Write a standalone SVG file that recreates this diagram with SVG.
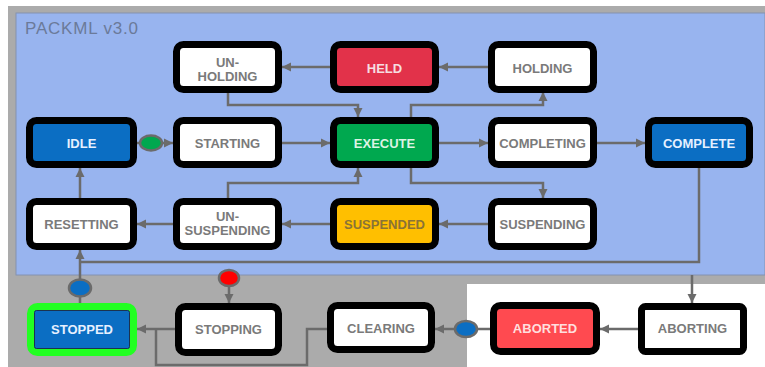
<svg xmlns="http://www.w3.org/2000/svg" width="765" height="367" viewBox="0 0 765 367">
<defs>
<style>
.bx{stroke:#000;stroke-width:7}
.w{fill:#fff}
.t{font-family:"Liberation Sans",Arial,sans-serif;font-weight:bold;font-size:13px;text-anchor:middle}
.tg{fill:#7a7a7a}
.tl{fill:#e6f0ff}
.c{fill:none;stroke:#6b6b6b;stroke-width:2.5}
.ca{fill:none;stroke:#6b6b6b;stroke-width:2.5;marker-end:url(#ah)}
</style>
<marker id="ah" markerUnits="userSpaceOnUse" markerWidth="10" markerHeight="10" refX="9" refY="5" orient="auto">
<path d="M0,0.5 L9,5 L0,9.5 z" fill="#6b6b6b"/>
</marker>
</defs>
<rect width="765" height="367" fill="#fff"/>
<rect x="8" y="6" width="757" height="361" fill="#ababab"/>
<rect x="16" y="13" width="749" height="262" fill="#98b4ef" stroke="#8492b0" stroke-width="1"/>
<rect x="467" y="284" width="298" height="83" fill="#fff"/>
<text x="25" y="34" font-family="Liberation Sans,Arial,sans-serif" font-size="17" fill="#6b7a99" textLength="113">PACKML v3.0</text>

<g id="connectors">
<path class="ca" d="M330,67 H282"/>
<path class="ca" d="M488,67 H439"/>
<path class="ca" d="M228,93 V105 H358 V117"/>
<path class="ca" d="M411,117 V105 H543 V92"/>
<path class="ca" d="M137,143 H173"/>
<path class="ca" d="M282,143 H330"/>
<path class="ca" d="M439,143 H488"/>
<path class="ca" d="M597,143 H645"/>
<path class="ca" d="M411,168 V183 H543 V198"/>
<path class="ca" d="M228,198 V183 H358 V168"/>
<path class="ca" d="M488,224 H439"/>
<path class="ca" d="M330,224 H282"/>
<path class="ca" d="M173,224 H137"/>
<path class="ca" d="M80,198 V168"/>
<path class="ca" d="M80,303 V250"/>
<path class="c" d="M699,168 V262 H80"/>
<path class="ca" d="M692,275 V303"/>
<path class="ca" d="M638,329 H600"/>
<path class="ca" d="M490,329 H435"/>
<path class="c" d="M327,329 H307 V365 H156 V329"/>
<path class="ca" d="M175,329 H137"/>
<path class="ca" d="M229,286 V303"/>
<ellipse cx="151" cy="143" rx="11" ry="7.5" fill="#00a84f" stroke="#6b6b6b" stroke-width="2.5"/>
<ellipse cx="80" cy="288" rx="11" ry="8.5" fill="#0b6ec3" stroke="#6b6b6b" stroke-width="2.5"/>
<ellipse cx="466" cy="329" rx="11" ry="8" fill="#0b6ec3" stroke="#6b6b6b" stroke-width="2.5"/>
<ellipse cx="229" cy="278" rx="10" ry="8" fill="#ff0000" stroke="#6b6b6b" stroke-width="2.5"/>
</g>

<g id="unholding"><rect class="bx w" x="176.5" y="44.5" width="102" height="45" rx="7"/><text class="t tg" x="227.5" y="66.5">UN-</text><text class="t tg" x="227.5" y="80.5">HOLDING</text></g>
<g id="held"><rect class="bx" fill="#e2324a" x="333.5" y="44.5" width="102" height="45" rx="7"/><text class="t" fill="#f6dde0" x="384.5" y="72.5">HELD</text></g>
<g id="holding"><rect class="bx w" x="491.5" y="44.5" width="102" height="45" rx="7"/><text class="t tg" x="542.5" y="72.5">HOLDING</text></g>

<g id="idle"><rect class="bx" fill="#0b6ec3" x="29.5" y="120.5" width="104" height="44" rx="7"/><text class="t tl" x="81.5" y="148">IDLE</text></g>
<g id="starting"><rect class="bx w" x="176.5" y="120.5" width="102" height="44" rx="7"/><text class="t tg" x="227.5" y="148">STARTING</text></g>
<g id="execute"><rect class="bx" fill="#00a84f" x="333.5" y="120.5" width="102" height="44" rx="7"/><text class="t" fill="#dcf3e4" x="384.5" y="148">EXECUTE</text></g>
<g id="completing"><rect class="bx w" x="491.5" y="120.5" width="102" height="44" rx="7"/><text class="t tg" x="542.5" y="148">COMPLETING</text></g>
<g id="complete"><rect class="bx" fill="#0b6ec3" x="648.5" y="120.5" width="101" height="44" rx="7"/><text class="t tl" x="699" y="148">COMPLETE</text></g>

<g id="resetting"><rect class="bx w" x="29.5" y="201.5" width="104" height="45" rx="7"/><text class="t tg" x="81.5" y="228.5">RESETTING</text></g>
<g id="unsuspending"><rect class="bx w" x="176.5" y="201.5" width="102" height="45" rx="7"/><text class="t tg" x="227.5" y="220.5">UN-</text><text class="t tg" x="227.5" y="234.5">SUSPENDING</text></g>
<g id="suspended"><rect class="bx" fill="#ffbf00" x="333.5" y="201.5" width="102" height="45" rx="7"/><text class="t" fill="#8a7336" x="384.5" y="228.5">SUSPENDED</text></g>
<g id="suspending"><rect class="bx w" x="491.5" y="201.5" width="102" height="45" rx="7"/><text class="t tg" x="542.5" y="228.5">SUSPENDING</text></g>

<g id="stopped"><rect fill="#0b6ec3" stroke="#22ff22" stroke-width="7" x="30.5" y="306.5" width="103" height="46" rx="7"/><rect fill="none" stroke="#1b3350" stroke-width="1" x="34.5" y="310.5" width="95" height="38" rx="2"/><text class="t tl" x="82" y="333.5">STOPPED</text></g>
<g id="stopping"><rect class="bx w" x="178.5" y="306.5" width="100" height="46" rx="7"/><text class="t tg" x="228.5" y="333.5">STOPPING</text></g>
<g id="clearing"><rect class="bx w" x="330.5" y="305.5" width="101" height="44" rx="7"/><text class="t tg" x="381" y="333">CLEARING</text></g>
<g id="aborted"><rect class="bx" fill="#ff4a50" x="493.5" y="305.5" width="103" height="46" rx="7"/><text class="t" fill="#ffdede" x="545" y="333">ABORTED</text></g>
<g id="aborting"><rect class="bx w" x="641.5" y="306.5" width="102" height="45" rx="4"/><text class="t tg" x="692.5" y="333">ABORTING</text></g>
</svg>
